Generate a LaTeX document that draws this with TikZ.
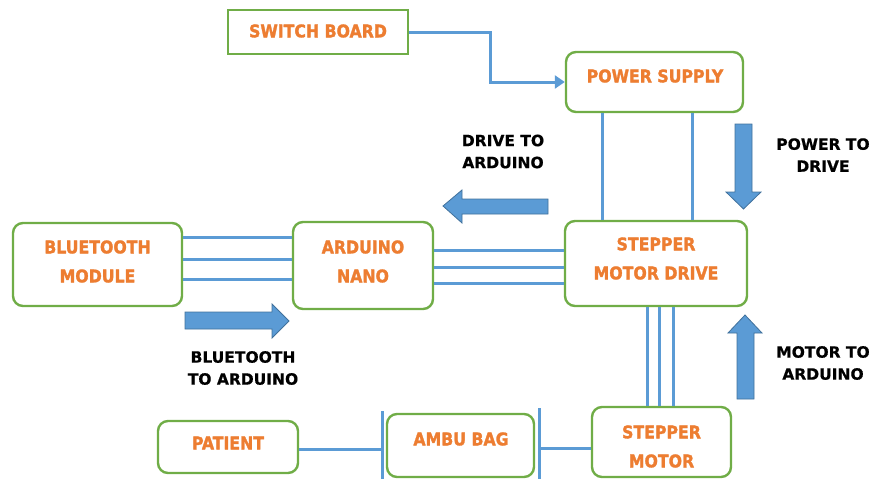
\documentclass[tikz,border=0pt]{standalone}
\usepackage{fontspec}
\setmainfont{DejaVu Sans}[BoldFeatures={FakeBold=0.6}]
\newfontfamily\orfont{DejaVu Sans Condensed}[BoldFeatures={FakeBold=1.6}]
\usetikzlibrary{arrows.meta}
\definecolor{gr}{HTML}{70AD47}
\definecolor{orng}{HTML}{ED7D31}
\definecolor{bl}{HTML}{5B9BD5}
\definecolor{bld}{HTML}{41719C}
\begin{document}
\begin{tikzpicture}[x=1pt,y=-1pt,
  box/.style={draw=gr, line width=2.4pt, rounded corners=10pt, fill=white, inner sep=0},
  sqbox/.style={draw=gr, line width=2.4pt, fill=white, inner sep=0},
  lbl/.style={font=\orfont\bfseries\fontsize{17.5}{29}\selectfont, text=orng, align=center, inner sep=0},
  blk/.style={font=\bfseries\fontsize{15.5}{22}\selectfont, align=center, inner sep=0},
  wire/.style={draw=bl, line width=3pt},
  barrow/.style={fill=bl, draw=bld, line width=0.8pt, line join=miter}]
\useasboundingbox (0,0) rectangle (869,479);
% boxes
\node[sqbox, minimum width=180pt, minimum height=44pt] (sw) at (318,32) {};
\node[box, minimum width=177pt, minimum height=60pt] (ps) at (654.5,82) {};
\node[box, minimum width=169pt, minimum height=83pt] (bt) at (97.5,264.5) {};
\node[box, minimum width=140pt, minimum height=87pt] (ard) at (363,265.5) {};
\node[box, minimum width=182pt, minimum height=85pt] (drv) at (656,263.5) {};
\node[box, minimum width=140pt, minimum height=52pt] (pat) at (228,447) {};
\node[box, minimum width=147pt, minimum height=63pt] (amb) at (460.5,445.5) {};
\node[box, minimum width=139pt, minimum height=70pt] (mot) at (661.5,442) {};
% box texts
\node[lbl] (swt) at (318,31) {SWITCH BOARD};
\node[lbl] (pst) at (655,76) {POWER SUPPLY};
\node[lbl] (btt) at (97.5,261.5) {BLUETOOTH\\MODULE};
\node[lbl] (ardt) at (363,261.5) {ARDUINO\\NANO};
\node[lbl] (drvt) at (656,258.5) {STEPPER\\MOTOR DRIVE};
\node[lbl] (patt) at (228,443) {PATIENT};
\node[lbl] (ambt) at (461,439) {AMBU BAG};
\node[lbl] (mott) at (661.5,446.5) {STEPPER\\MOTOR};
% black labels
\node[blk] (l1) at (503,151.5) {DRIVE TO\\ARDUINO};
\node[blk] (l2) at (823,155) {POWER TO\\DRIVE};
\node[blk] (l3) at (823,363) {MOTOR TO\\ARDUINO};
\node[blk] (l4) at (243,368) {BLUETOOTH\\TO ARDUINO};
% wires
\draw[wire, -{Triangle[length=10pt,width=13pt]}] (sw.east) -- (490,32) |- (ps.west);
\foreach \x in {602,692} \draw[wire] (ps.south -| \x,0) -- (drv.north -| \x,0);
\foreach \y in {237,259,279} \draw[wire] (bt.east |- 0,\y) -- (ard.west |- 0,\y);
\foreach \y in {250,267,283} \draw[wire] (ard.east |- 0,\y) -- (drv.west |- 0,\y);
\foreach \x in {647,659,673} \draw[wire] (drv.south -| \x,0) -- (mot.north -| \x,0);
\coordinate (b1t) at (382,411);
\coordinate (b1b) at (382,479);
\coordinate (b2t) at (539,408);
\coordinate (b2b) at (539,479);
\draw[wire] (b1t) -- (b1b);
\draw[wire] (b2t) -- (b2b);
\draw[wire] (pat.east |- 0,449) -- (b1t |- 0,449);
\draw[wire] (b2t |- 0,448) -- (mot.west |- 0,448);
% block arrows
\draw[barrow] (735,124) -- (752,124) -- (752,192) -- (761,192) -- (743.5,209) -- (726,192) -- (735,192) -- cycle;
\draw[barrow] (737,399) -- (754,399) -- (754,333) -- (762,333) -- (745,315) -- (728,333) -- (737,333) -- cycle;
\draw[barrow] (548,199) -- (548,214) -- (462,214) -- (462,223) -- (443,206) -- (462,190) -- (462,199) -- cycle;
\draw[barrow] (185,312) -- (272,312) -- (272,304) -- (289,321) -- (272,338) -- (272,329) -- (185,329) -- cycle;
\end{tikzpicture}
\end{document}
